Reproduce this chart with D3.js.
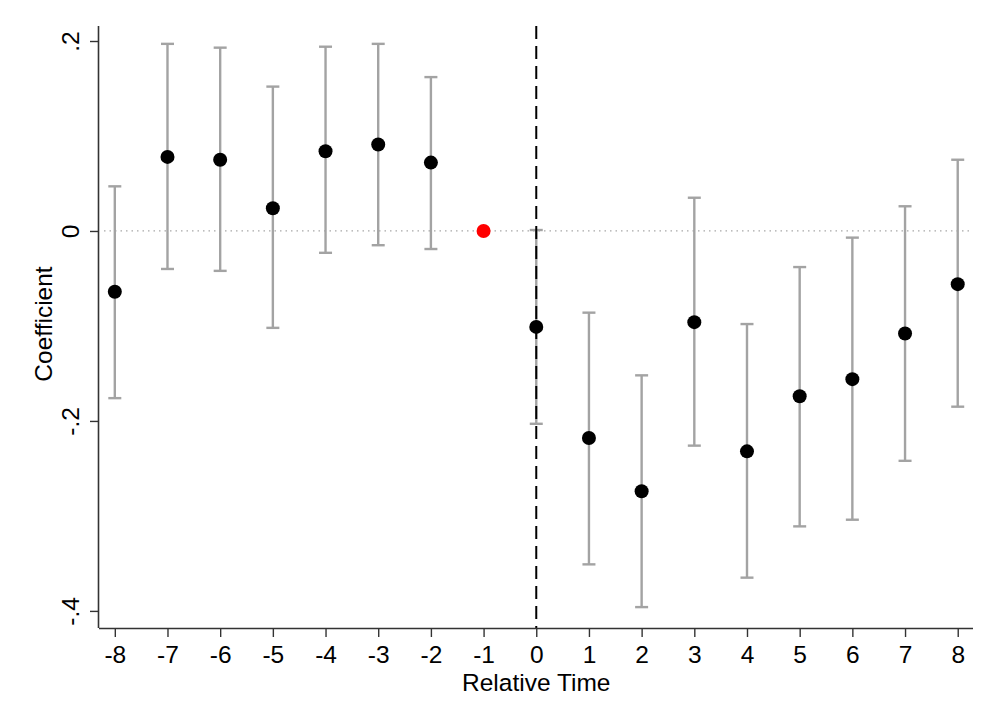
<!DOCTYPE html>
<html>
<head>
<meta charset="utf-8">
<script src="https://cdn.jsdelivr.net/npm/d3@7"></script>
<style>
  body { margin: 0; background: #fff; }
  text { font-family: "Liberation Sans", Arial, Helvetica, sans-serif; fill: #000; }
</style>
</head>
<body>
<svg width="1000" height="727"></svg>
<script>
// Event-study estimates
var periods = [-8, -7, -6, -5, -4, -3, -2, -1, 0, 1, 2, 3, 4, 5, 6, 7, 8];
var coefs   = [-0.064, 0.078, 0.075, 0.024, 0.084, 0.091, 0.072, 0, -0.101, -0.218, -0.274, -0.096, -0.232, -0.174, -0.156, -0.108, -0.056];
var ciLow   = [-0.176, -0.040, -0.042, -0.102, -0.023, -0.015, -0.019, null, -0.203, -0.351, -0.396, -0.226, -0.365, -0.311, -0.304, -0.242, -0.185];
var ciHigh  = [0.047, 0.197, 0.193, 0.152, 0.194, 0.197, 0.162, null, 0.001, -0.086, -0.152, 0.035, -0.098, -0.038, -0.007, 0.026, 0.075];
var yTicks  = [0.2, 0, -0.2, -0.4];
var yTickLabels = [".2", "0", "-.2", "-.4"];
var refPeriod = -1;

var fontSize = 24.5;

var svg = d3.select("svg");

var x = d3.scaleLinear().domain([-8.3, 8.29]).range([99, 973]);
var y = d3.scaleLinear().domain([0.2158, -0.418]).range([26, 628]);

var data = periods.map(function(p, i) {
  return { t: p, b: coefs[i], lo: ciLow[i], hi: ciHigh[i] };
});

// zero reference line (dotted)
svg.append("line")
  .attr("x1", 104).attr("x2", 973)
  .attr("y1", y(0)).attr("y2", y(0))
  .attr("stroke", "#a8a8a8")
  .attr("stroke-width", 1.3)
  .attr("stroke-dasharray", "1.5,4");

// error bars
var bars = svg.append("g").attr("class", "ci")
  .selectAll("g")
  .data(data.filter(function(d) { return d.lo !== null; }))
  .enter().append("g");

bars.append("line")
  .attr("x1", function(d) { return x(d.t); })
  .attr("x2", function(d) { return x(d.t); })
  .attr("y1", function(d) { return y(d.lo); })
  .attr("y2", function(d) { return y(d.hi); })
  .attr("stroke", "#a3a3a3").attr("stroke-width", 2.4);

bars.selectAll("line.cap")
  .data(function(d) { return [{ t: d.t, v: d.lo }, { t: d.t, v: d.hi }]; })
  .enter().append("line")
  .attr("class", "cap")
  .attr("x1", function(d) { return x(d.t) - 6.5; })
  .attr("x2", function(d) { return x(d.t) + 6.5; })
  .attr("y1", function(d) { return y(d.v); })
  .attr("y2", function(d) { return y(d.v); })
  .attr("stroke", "#a3a3a3").attr("stroke-width", 2.4);

// treatment line at 0 (dashed)
svg.append("line")
  .attr("x1", x(0)).attr("x2", x(0))
  .attr("y1", 26).attr("y2", 628)
  .attr("stroke", "#000")
  .attr("stroke-width", 2)
  .attr("stroke-dasharray", "13,7");

// points
svg.append("g").attr("class", "points")
  .selectAll("circle")
  .data(data)
  .enter().append("circle")
  .attr("cx", function(d) { return x(d.t); })
  .attr("cy", function(d) { return y(d.b); })
  .attr("r", 7)
  .attr("fill", function(d) { return d.t === refPeriod ? "#ff0000" : "#000"; });

// axes
var xAxis = d3.axisBottom(x).tickValues(periods).tickSize(9).tickSizeOuter(0)
  .tickFormat(d3.format("d"));
var gx = svg.append("g").attr("transform", "translate(0,628)").call(xAxis);
gx.attr("font-size", fontSize).attr("font-family", "Liberation Sans, Arial, sans-serif");
gx.select(".domain").attr("stroke", "#333").attr("stroke-width", 1.6)
  .attr("d", "M99,0.5H973");
gx.selectAll(".tick line").attr("stroke", "#333").attr("stroke-width", 1.4);
gx.selectAll(".tick text")
  .attr("y", 35).attr("dy", null)
  .text(function(d) { return d < 0 ? "-" + Math.abs(d) : d; });

var yAxis = d3.axisLeft(y).tickValues(yTicks).tickSize(9).tickSizeOuter(0)
  .tickFormat(function(d, i) { return yTickLabels[i]; });
var gy = svg.append("g").attr("transform", "translate(99,0)").call(yAxis);
gy.attr("font-size", fontSize).attr("font-family", "Liberation Sans, Arial, sans-serif");
gy.select(".domain").attr("stroke", "#333").attr("stroke-width", 1.6)
  .attr("d", "M-0.5,26V628");
gy.selectAll(".tick line").attr("stroke", "#333").attr("stroke-width", 1.4);
gy.selectAll(".tick text")
  .attr("x", null).attr("dy", null)
  .attr("text-anchor", "middle")
  .attr("transform", "translate(-20,0) rotate(-90)");

// axis titles
svg.append("text")
  .attr("x", x(0)).attr("y", 691)
  .attr("text-anchor", "middle")
  .attr("font-size", fontSize)
  .text("Relative Time");

svg.append("text")
  .attr("transform", "translate(52," + 324 + ") rotate(-90)")
  .attr("text-anchor", "middle")
  .attr("font-size", fontSize)
  .text("Coefficient");
</script>
</body>
</html>
